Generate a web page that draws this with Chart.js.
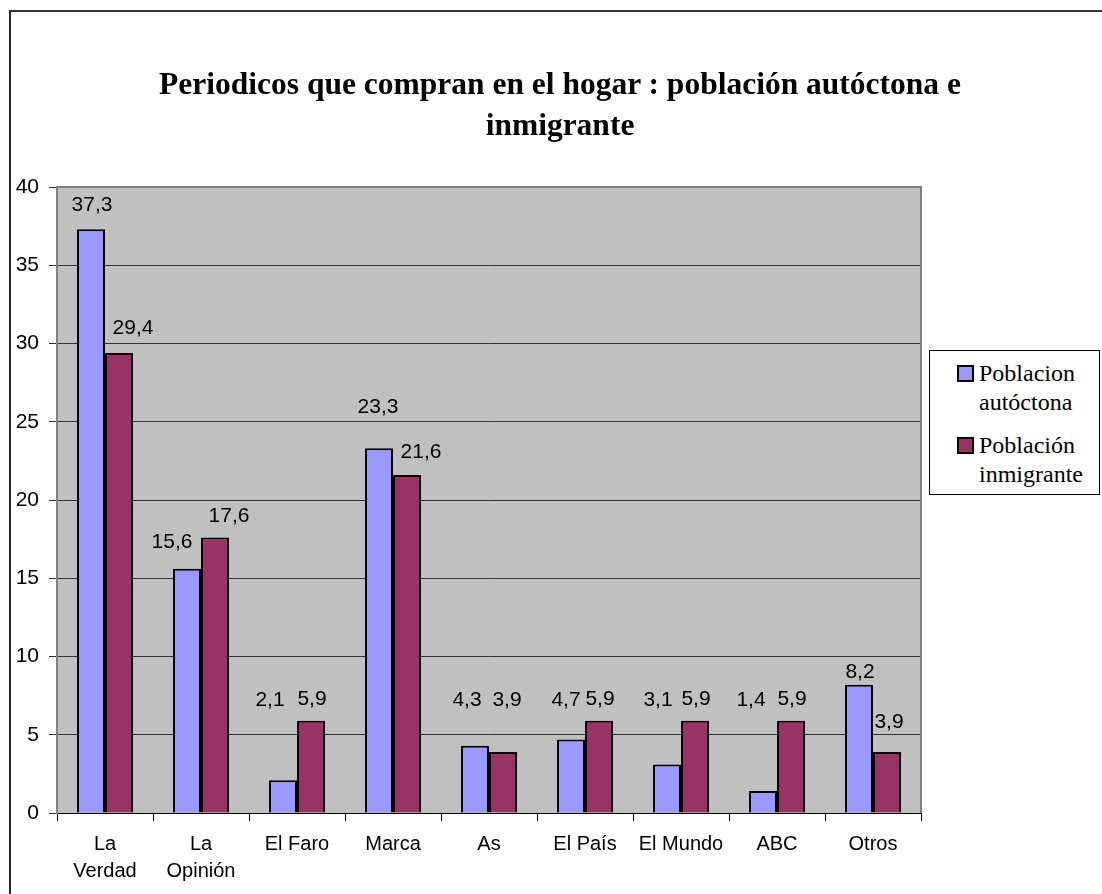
<!DOCTYPE html>
<html>
<head>
<meta charset="utf-8">
<script src="https://cdn.jsdelivr.net/npm/chart.js@4"></script>
<style>
  html, body { margin: 0; padding: 0; background: #fff; }
  #wrap { position: relative; width: 1102px; height: 894px; overflow: hidden; }
  #frame { position: absolute; left: 9px; top: 10px; width: 1100px; height: 900px;
           border-left: 2px solid #222; border-top: 2px solid #333; }
  #title { position: absolute; left: 60px; top: 63px; width: 1000px; text-align: center;
           font: bold 31.5px "Liberation Serif", "Times New Roman", serif; line-height: 41px; color: #000; }
  #legend { position: absolute; left: 929px; top: 350px; width: 169px; height: 143px;
            border: 1px solid #000; background: #fff;
            font: 24px "Liberation Serif", "Times New Roman", serif; line-height: 29px; color: #000; }
  .item { position: absolute; left: 49px; }
  .box { position: absolute; left: -22px; top: 6px; width: 13px; height: 13px; border: 2px solid #000; }
  canvas { position: absolute; left: 0; top: 0; }
</style>
</head>
<body>
<div id="wrap">
  <div id="frame"></div>
  <canvas id="newsChart" width="1102" height="894"></canvas>
  <div id="title">Periodicos que compran en el hogar : población autóctona e<br>inmigrante</div>
  <div id="legend">
    <div class="item" style="top:8px"><span class="box" style="background:#9999FF"></span>Poblacion<br>autóctona</div>
    <div class="item" style="top:80px"><span class="box" style="background:#993366"></span>Población<br>inmigrante</div>
  </div>
</div>
<script>
const newsChart = document.getElementById("newsChart");

const categories = [["La", "Verdad"], ["La", "Opinión"], "El Faro", "Marca", "As", "El País", "El Mundo", "ABC", "Otros"];
const autoctona = [37.3, 15.6, 2.1, 23.3, 4.3, 4.7, 3.1, 1.4, 8.2];
const inmigrante = [29.4, 17.6, 5.9, 21.6, 3.9, 5.9, 5.9, 5.9, 3.9];

// label offsets relative to bar top centre (Excel placed them a bit loosely)
const autoctonaLabelShift = [[1, -24], [-15, -27], [-13, -80], [-1, -41], [-8, -46], [-5, -39], [-9, -64], [-12, -91], [1, -12]];
const inmigranteLabelShift = [[14, -25], [14, -21], [1, -21], [14, -23], [4, -52], [1, -21], [1, -21], [1, -21], [2, -30]];

const plotBackground = {
    id: 'plotBackground',
    beforeDraw(chart) {
        const {ctx, chartArea: a} = chart;
        ctx.save();
        ctx.fillStyle = '#C0C0C0';
        ctx.fillRect(a.left, a.top, a.right - a.left, a.bottom - a.top);
        ctx.restore();
    },
    afterDraw(chart) {
        const {ctx, chartArea: a} = chart;
        ctx.save();
        ctx.strokeStyle = '#808080';
        ctx.lineWidth = 2;
        ctx.beginPath();
        ctx.moveTo(a.left, a.top);
        ctx.lineTo(a.right, a.top);
        ctx.lineTo(a.right, a.bottom);
        ctx.stroke();
        ctx.restore();
    }
};

const valueLabels = {
    id: 'valueLabels',
    afterDatasetsDraw(chart) {
        const ctx = chart.ctx;
        ctx.save();
        ctx.font = '21px "Liberation Sans", Arial, sans-serif';
        ctx.fillStyle = '#000';
        ctx.textAlign = 'center';
        ctx.textBaseline = 'middle';
        chart.data.datasets.forEach((ds, di) => {
            const shifts = di === 0 ? autoctonaLabelShift : inmigranteLabelShift;
            chart.getDatasetMeta(di).data.forEach((bar, i) => {
                const text = String(ds.data[i]).replace('.', ',');
                ctx.fillText(text, bar.x + shifts[i][0], bar.y + shifts[i][1]);
            });
        });
        ctx.restore();
    }
};

new Chart(newsChart, {
    type: 'bar',
    data: {
        labels: categories,
        datasets: [
            {
                label: 'Poblacion autóctona',
                data: autoctona,
                backgroundColor: '#9999FF',
                borderColor: '#000',
                borderWidth: 2,
            },
            {
                label: 'Población inmigrante',
                data: inmigrante,
                backgroundColor: '#993366',
                borderColor: '#000',
                borderWidth: 2,
            },
        ],
    },
    options: {
        responsive: false,
        animation: false,
        categoryPercentage: 0.583,
        barPercentage: 1,
        layout: {
            padding: {left: 0, top: 187, right: 181, bottom: 0}
        },
        scales: {
            x: {
                afterFit: axis => { axis.height = 81; },
                grid: {
                    offset: true,
                    drawOnChartArea: false,
                    tickLength: 8,
                    color: '#000',
                },
                border: {color: '#000', width: 1},
                ticks: {
                    color: '#000',
                    padding: 10,
                    maxRotation: 0,
                    autoSkip: false,
                    font: {family: '"Liberation Sans", Arial, sans-serif', size: 20, lineHeight: 1.35},
                },
            },
            y: {
                min: 0,
                max: 40,
                afterFit: axis => { axis.width = 57; },
                grid: {
                    color: '#333',
                    tickLength: 8,
                },
                border: {color: '#808080', width: 2},
                ticks: {
                    stepSize: 5,
                    color: '#000',
                    padding: 10,
                    font: {family: '"Liberation Sans", Arial, sans-serif', size: 21},
                },
            }
        },
        plugins: {
            legend: {display: false},
            title: {display: false},
            tooltip: {enabled: false},
        }
    },
    plugins: [plotBackground, valueLabels]
});
</script>
</body>
</html>
